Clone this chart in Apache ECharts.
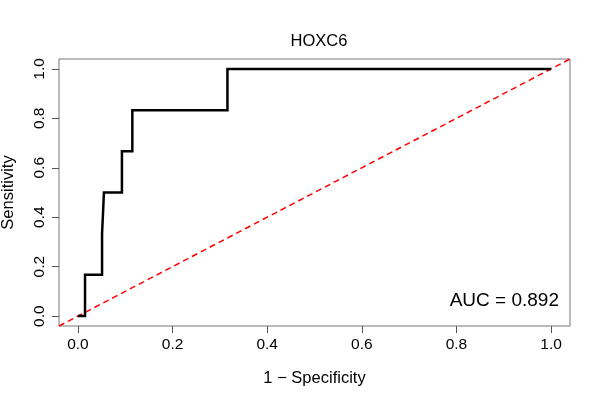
<!DOCTYPE html>
<html>
<head>
<meta charset="utf-8">
<script src="https://cdn.jsdelivr.net/npm/echarts@6/dist/echarts.min.js"></script>
<style>
  html, body { margin: 0; padding: 0; background: #fff; }
  #chart { width: 600px; height: 400px; }
</style>
</head>
<body>
<div id="chart"></div>
<script>
// ROC curve corners
var fpr = [0, 0.015, 0.015, 0.051, 0.051, 0.055, 0.055, 0.093, 0.093, 0.115, 0.115, 0.316, 0.316, 1.0];
var tpr = [0, 0, 0.167, 0.167, 0.333, 0.333, 0.5, 0.5, 0.667, 0.667, 0.833, 0.833, 1.0, 1.0];
// reference diagonal spans the whole plot region
var diagX = [-0.04, 1.04];
var diagY = [-0.04, 1.04];
var ticks = [0, 0.2, 0.4, 0.6, 0.8, 1.0];
var aucText = 'AUC = 0.892';

var font = 'Liberation Sans, Arial, sans-serif';
var chart = echarts.init(document.getElementById('chart'));

var rocData = fpr.map(function (x, i) { return [x, tpr[i]]; });
var diagData = diagX.map(function (x, i) { return [x, diagY[i]]; });

function axis(name, gap, rotate) {
  return {
    type: 'value',
    min: -0.04,
    max: 1.04,
    name: name,
    nameLocation: 'middle',
    nameGap: gap,
    nameTextStyle: { color: '#000', fontSize: 16.5, fontFamily: font },
    axisLine: { show: false, onZero: false },
    splitLine: { show: false },
    axisTick: { show: true, inside: false, length: 7, customValues: ticks, lineStyle: { color: '#555' } },
    axisLabel: {
      customValues: ticks,
      rotate: rotate,
      margin: 11,
      color: '#000',
      fontSize: 15.5,
      fontFamily: font,
      formatter: function (v) { return v.toFixed(1); }
    }
  };
}

var option = {
  animation: false,
  title: {
    text: 'HOXC6',
    left: 314,
    textAlign: 'center',
    top: 28,
    textStyle: { color: '#000', fontSize: 16.5, fontWeight: 'normal', fontFamily: font }
  },
  grid: {
    left: 59, right: 30, top: 59, bottom: 74,
    outerBoundsMode: 'none',
    containLabel: false,
    show: true, borderColor: '#777', borderWidth: 1
  },
  xAxis: axis('1 \u2212 Specificity', 44, 0),
  yAxis: axis('Sensitivity', 42, 90),
  series: [
    {
      type: 'line',
      data: diagData,
      showSymbol: false,
      lineStyle: { color: '#ff0000', width: 1.5, type: [6, 4] },
      z: 1
    },
    {
      type: 'line',
      data: rocData,
      showSymbol: false,
      lineStyle: { color: '#000', width: 2.5, join: 'miter' },
      z: 2
    }
  ],
  graphic: [{
    type: 'text',
    right: 41,
    top: 291,
    style: { text: aucText, fill: '#000', fontSize: 19, fontFamily: font }
  }]
};

chart.setOption(option);
</script>
</body>
</html>
